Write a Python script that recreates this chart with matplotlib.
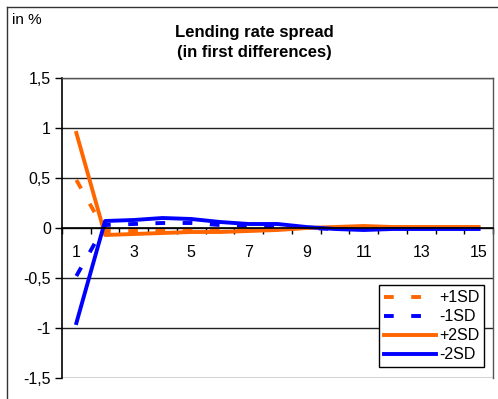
import numpy as np
import matplotlib
matplotlib.use("Agg")
import matplotlib.pyplot as plt
from matplotlib.lines import Line2D

# ---- data ----
periods = list(range(1, 16))
plus_1sd = [0.48, -0.03, -0.03, -0.03, -0.02, -0.02, -0.02, -0.01, 0.0, 0.0, 0.01, 0.01, 0.0, 0.0, 0.0]
minus_1sd = [-0.48, 0.03, 0.04, 0.05, 0.05, 0.03, 0.02, 0.02, 0.0, -0.01, -0.01, 0.0, 0.0, 0.0, 0.0]
plus_2sd = [0.95, -0.07, -0.06, -0.05, -0.04, -0.04, -0.03, -0.02, 0.0, 0.01, 0.02, 0.01, 0.01, 0.01, 0.01]
minus_2sd = [-0.95, 0.07, 0.08, 0.10, 0.09, 0.06, 0.04, 0.04, 0.01, -0.01, -0.02, -0.01, -0.01, -0.01, -0.01]
yticks = [-1.5, -1, -0.5, 0, 0.5, 1, 1.5]
ytick_labels = ["-1,5", "-1", "-0,5", "0", "0,5", "1", "1,5"]
xtick_pos = [1, 3, 5, 7, 9, 11, 13, 15]

ORANGE = "#FF6600"
BLUE = "#0000FF"

plt.rcParams["font.family"] = ["Liberation Sans", "DejaVu Sans"]

fig = plt.figure(figsize=(4.98, 3.99), dpi=100)
ax = fig.add_axes([62 / 498, 1 - 378 / 399, (493 - 62) / 498, (378 - 78) / 399])

dash = (2.5, 4.5)
ax.plot(periods, plus_1sd, color=ORANGE, lw=2.8, dashes=dash, label="+1SD")
ax.plot(periods, minus_1sd, color=BLUE, lw=2.8, dashes=dash, label="-1SD")
ax.plot(periods, plus_2sd, color=ORANGE, lw=2.8, label="+2SD")
ax.plot(periods, minus_2sd, color=BLUE, lw=2.8, label="-2SD")

ax.set_xlim(0.5, 15.5)
ax.set_ylim(-1.5, 1.5)

# horizontal gridlines
for y in yticks:
    ax.axhline(y, color="#222222", lw=1.0, zorder=0.5)

# spines
for side in ["top", "right"]:
    ax.spines[side].set_color("#555555")
    ax.spines[side].set_linewidth(1.0)
ax.spines["left"].set_color("black")
ax.spines["left"].set_linewidth(1.2)
ax.spines["bottom"].set_position(("data", 0))
ax.spines["bottom"].set_color("black")
ax.spines["bottom"].set_linewidth(1.2)

ax.set_yticks(yticks)
ax.set_yticklabels(ytick_labels)
ax.tick_params(axis="y", direction="out", length=5, width=1, labelsize=11.5, pad=3)

ax.set_xticks(xtick_pos)
ax.set_xticklabels([str(p) for p in xtick_pos])
ax.set_xticks(np.arange(0.5, 16, 1), minor=True)
ax.tick_params(axis="x", which="major", length=0, labelsize=11.5, pad=12)
ax.tick_params(axis="x", which="minor", direction="out", length=4, width=1)

leg = ax.legend(loc="lower right", bbox_to_anchor=(484 / 498, 1 - 367 / 399),
                bbox_transform=fig.transFigure, fontsize=11.5, frameon=True, fancybox=False,
                edgecolor="black", framealpha=1, handlelength=3.3, handletextpad=0.15,
                labelspacing=0.25, borderpad=0.3, borderaxespad=0)
leg.get_frame().set_linewidth(1.0)

fig.text(254 / 498, 1 - 32 / 399, "Lending rate spread", ha="center", va="center",
         fontsize=12, fontweight="bold")
fig.text(254 / 498, 1 - 52 / 399, "(in first differences)", ha="center", va="center",
         fontsize=12, fontweight="bold")
fig.text(12 / 498, 1 - 20 / 399, "in %", ha="left", va="center", fontsize=11)

# outer chart border (top and left visible)
fig.add_artist(Line2D([7 / 498, 1], [1 - 7 / 399, 1 - 7 / 399], color="#333333", lw=1.0))
fig.add_artist(Line2D([7 / 498, 7 / 498], [0, 1 - 7 / 399], color="#333333", lw=1.0))

fig.savefig("out.png", dpi=100)
